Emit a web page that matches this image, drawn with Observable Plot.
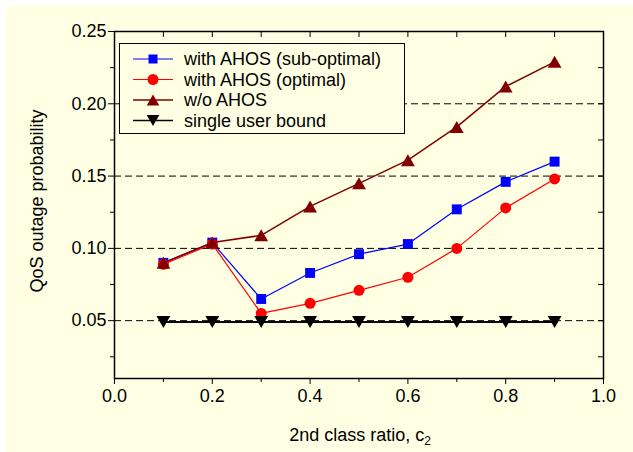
<!DOCTYPE html>
<html><head><meta charset="utf-8">
<script src="https://cdn.jsdelivr.net/npm/d3@7"></script>
<script src="https://cdn.jsdelivr.net/npm/@observablehq/plot@0.6"></script>
<style>
body{margin:0;background:#fff;}
#wrap{position:relative;width:633px;height:452px;overflow:hidden;background:#fff;}
#bg{position:absolute;left:6px;top:6px;right:0;bottom:0;background:#FFFFE3;}
#wrap svg{position:absolute;left:0;top:0;}
</style></head><body><div id="wrap"><div id="bg"></div></div>
<script>
// ---- data ----
const ratio = [0.1, 0.2, 0.3, 0.4, 0.5, 0.6, 0.7, 0.8, 0.9];
const subOptimal = [0.090, 0.104, 0.065, 0.083, 0.096, 0.103, 0.127, 0.146, 0.160];
const optimal    = [0.089, 0.103, 0.055, 0.062, 0.071, 0.080, 0.100, 0.128, 0.148];
const withoutAHOS= [0.090, 0.104, 0.109, 0.129, 0.145, 0.161, 0.184, 0.212, 0.229];
const singleUser = [0.049, 0.049, 0.049, 0.049, 0.049, 0.049, 0.049, 0.049, 0.049];
const seriesNames = ["with AHOS (sub-optimal)", "with AHOS (optimal)", "w/o AHOS", "single user bound"];

const xMajorTicks = [0.0, 0.2, 0.4, 0.6, 0.8, 1.0];
const xMinorTicks = [0.1, 0.3, 0.5, 0.7, 0.9];
const xTopTicks = [0.1, 0.2, 0.3, 0.4, 0.5, 0.6, 0.7, 0.8, 0.9];
const yMajorTicks = [0.05, 0.10, 0.15, 0.20, 0.25];
const yMinorTicks = [0.025, 0.075, 0.125, 0.175, 0.225];
const yRightTicks = [0.025, 0.05, 0.075, 0.10, 0.125, 0.15, 0.175, 0.20, 0.225];
const gridY = [0.05, 0.10, 0.15, 0.20];

// ---- symbols ----
const triUp = {draw(ctx, size){const s=Math.sqrt(size),w=s*0.6,h=s*0.52;ctx.moveTo(0,-h);ctx.lineTo(w,h);ctx.lineTo(-w,h);ctx.closePath();}};
const triDown = {draw(ctx, size){const s=Math.sqrt(size),w=s*0.6,h=s*0.52;ctx.moveTo(0,h);ctx.lineTo(w,-h);ctx.lineTo(-w,-h);ctx.closePath();}};
const square = {draw(ctx, size){const h=Math.sqrt(size)/2;ctx.rect(-h,-h,2*h,2*h);}};

const styles = [
  {values: subOptimal, color: "#0000FF", symbol: square, r: 5.6, sw: 1.2},
  {values: optimal, color: "#FF0000", symbol: "circle", r: 5.5, sw: 1.2},
  {values: withoutAHOS, color: "#800000", symbol: triUp, r: 6.5, sw: 1.5},
  {values: singleUser, color: "#000000", symbol: triDown, r: 6.5, sw: 2}
];

const marks = [
  Plot.ruleY(gridY, {stroke: "black", strokeWidth: 1, strokeDasharray: "7,4"})
];
styles.forEach((s, i) => {
  const rows = ratio.map((x, j) => ({x, y: s.values[j], series: seriesNames[i]}));
  marks.push(Plot.line(rows, {x: "x", y: "y", stroke: s.color, strokeWidth: s.sw}));
  marks.push(Plot.dot(rows, {x: "x", y: "y", symbol: () => s.symbol, r: s.r, fill: s.color, stroke: "none"}));
});
const noLabel = () => "";
marks.push(
  Plot.axisX(xMajorTicks, {anchor: "bottom", tickSize: 6, tickPadding: 5, tickFormat: d3.format(".1f"), label: null}),
  Plot.axisX(xMinorTicks, {anchor: "bottom", tickSize: 4, tickFormat: noLabel, label: null}),
  Plot.axisX(xTopTicks, {anchor: "top", tickSize: -5, tickFormat: noLabel, label: null}),
  Plot.axisY(yMajorTicks, {anchor: "left", tickSize: 6, tickPadding: 2, tickFormat: d3.format(".2f"), label: null}),
  Plot.axisY(yMinorTicks, {anchor: "left", tickSize: 4, tickFormat: noLabel, label: null}),
  Plot.axisY(yRightTicks, {anchor: "right", tickSize: -6, tickFormat: noLabel, label: null}),
  Plot.frame({stroke: "black", strokeWidth: 1.5})
);

const chart = Plot.plot({
  width: 633, height: 452,
  marginTop: 31, marginRight: 30, marginBottom: 74, marginLeft: 114,
  x: {domain: [0, 1]},
  y: {domain: [0.01, 0.25]},
  symbol: {type: "identity"},
  style: {background: "transparent", fontFamily: "'Liberation Sans', Arial, sans-serif", fontSize: "18px", color: "black"},
  marks
});
document.getElementById("wrap").appendChild(chart);

// ---- axis titles and legend ----
const svg = d3.select(chart);
const font = "'Liberation Sans', Arial, sans-serif";
const xt = svg.append("text").attr("x", 360).attr("y", 441).attr("text-anchor", "middle")
  .attr("font-family", font).attr("font-size", 18).attr("fill", "black").text("2nd class ratio, c");
xt.append("tspan").attr("font-size", 12).attr("dy", 4).text("2");
svg.append("text").attr("transform", "translate(43,201) rotate(-90)").attr("text-anchor", "middle")
  .attr("font-family", font).attr("font-size", 18).attr("fill", "black").text("QoS outage probability");

const lg = svg.append("g");
lg.append("rect").attr("x", 119.5).attr("y", 43.5).attr("width", 285).attr("height", 90)
  .attr("fill", "#FFFFE3").attr("stroke", "black").attr("stroke-width", 1);
const rowsY = [59, 79.5, 100, 120.5];
const legSizes = [81, 95, 110, 110];
const legSyms = [square, d3.symbolCircle, triUp, triDown];
styles.forEach((s, i) => {
  const y = rowsY[i];
  lg.append("line").attr("x1", 133).attr("x2", 173).attr("y1", y).attr("y2", y)
    .attr("stroke", s.color).attr("stroke-width", s.sw === 2 ? 1.5 : s.sw);
  lg.append("path").attr("transform", `translate(153,${y})`)
    .attr("d", d3.symbol(legSyms[i], legSizes[i])()).attr("fill", s.color);
  lg.append("text").attr("x", 184).attr("y", y).attr("dy", "0.36em").attr("text-anchor", "start")
    .attr("font-family", font).attr("font-size", 18).attr("fill", "black").text(seriesNames[i]);
});
</script>
</body></html>
